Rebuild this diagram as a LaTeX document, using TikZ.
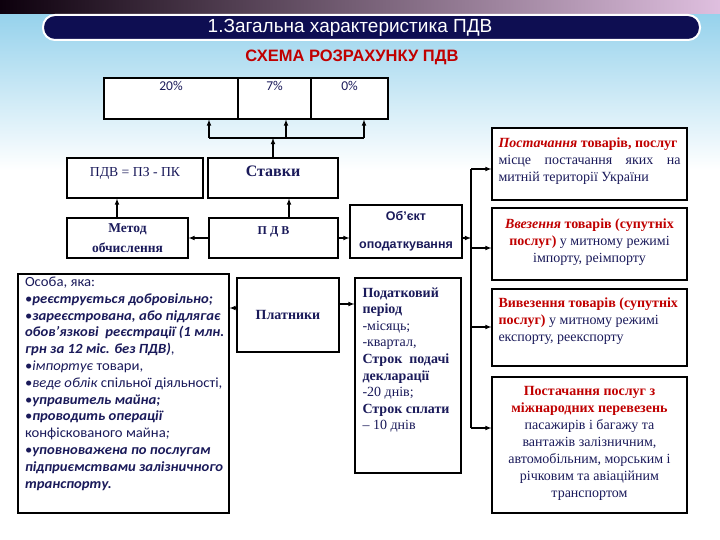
\documentclass[tikz,border=0pt]{standalone}
\usepackage{fontspec}
\setmainfont{Liberation Serif}
\setsansfont{Liberation Sans}
\newfontfamily\calib{Carlito}
\newfontfamily\calibw{Carlito}[FakeStretch=1.05]
\definecolor{navy}{RGB}{26,26,90}
\definecolor{barblue}{RGB}{14,14,82}
\definecolor{redtxt}{RGB}{192,0,0}
\definecolor{skyblue}{RGB}{150,210,236}
\newcommand{\redb}[1]{\textcolor{redtxt}{\textbf{#1}}}
\newcommand{\inbox}[3]{\parbox[c][#1][t]{#2}{#3}}
\newcommand{\bit}[1]{•\textbf{\textit{#1}}}

\begin{document}
\begin{tikzpicture}[x=1pt,y=-1pt,
    box/.style={draw,fill=white,line width=1.1pt,inner sep=0pt,text=navy},
    arr/.style={-latex,line width=1.1pt},
    pct/.style={font=\calib\fontsize{13.5}{14}\selectfont,text=navy,inner sep=0pt},
    rate/.style={box,minimum height=41pt,label={[pct,anchor=north,yshift=-4pt]north:#1}},
    txt/.style={font=\fontsize{14}{17}\selectfont}]
  \useasboundingbox (0,0) rectangle (720,540);
  % background
  \fill[white] (0,0) rectangle (720,540);
  \shade[top color=skyblue,bottom color=white] (0,14) rectangle (720,170);
  \shade[left color=black!90!violet,middle color=black!70!violet,right color=violet!25] (0,0) rectangle (720,14);
  \draw[line width=2pt,draw=white,fill=barblue,rounded corners=12pt] (43,15) rectangle (700,40);
  \node[text=white,font=\sffamily\fontsize{19}{19}\selectfont] (header) at (350,27.5) {1.Загальна характеристика ПДВ};
  \node[text=redtxt,font=\sffamily\bfseries\fontsize{16.5}{16.5}\selectfont] (title) at (352,57) {СХЕМА РОЗРАХУНКУ ПДВ};

  % rates
  \node[rate=20\%,minimum width=134pt] (r20) at (171,98.5) {};
  \node[rate=7\%,minimum width=73pt] (r7) at (274.5,98.5) {};
  \node[rate=0\%,minimum width=77pt] (r0) at (349.5,98.5) {};

  % left column
  \node[box,minimum width=136pt,minimum height=40pt,font=\fontsize{13.7}{13.7}\selectfont,
        text height=9pt,text depth=12.4pt] (pdvf) at (135,178) {ПДВ = ПЗ - ПК};
  \node[box,minimum width=130pt,minimum height=40pt,font=\bfseries\fontsize{16}{16}\selectfont,
        text height=10pt,text depth=12pt] (stavky) at (273,178) {Ставки};
  \node[box,minimum width=121pt,minimum height=40pt,align=center,
        font=\bfseries\fontsize{13.5}{20}\selectfont] (metod) at (127.5,238) {Метод\\обчислення};
  \node[box,line width=2.4pt,minimum width=129pt,minimum height=40pt,font=\bfseries\fontsize{12}{12}\selectfont,
        text height=8.5pt,text depth=16.5pt] (pdv) at (273.5,238) {П Д В};
  \node[box,minimum width=112pt,minimum height=53pt,align=center,
        font=\sffamily\bfseries\fontsize{12.5}{28}\selectfont] (obj) at (406,231.5) {Об’єкт\\оподаткування};

  \node[box,minimum width=211pt,minimum height=239pt,font=\calibw\fontsize{14}{16.8}\selectfont] (osoba) at (123.5,393.5)
    {\inbox{233pt}{211pt}{\raggedright\leftskip=7pt Особа, яка:\\
     \bit{реєструється добровільно;}\\
     \bit{зареєстрована, або підлягає}\\
     \textbf{\textit{обов’язкові\ \ реєстрації (1 млн.}}\\
     \textbf{\textit{грн за 12 міс. без ПДВ)}},\\
     •\textit{імпортує} товари,\\
     •\textit{веде облік} спільної діяльності,\\
     \bit{управитель майна;}\\
     \bit{проводить операції}\\
     конфіскованого майна\textit{;}\\
     \bit{уповноважена по послугам}\\
     \textbf{\textit{підприємствами залізничного}}\\
     \textbf{\textit{транспорту.}}}};
  \node[box,minimum width=102pt,minimum height=74pt,font=\bfseries\fontsize{14}{14}\selectfont] (platnyky) at (288,315) {Платники};
  \node[box,minimum width=106pt,minimum height=195pt,font=\fontsize{14}{16.6}\selectfont] (podatk) at (408,375.5)
    {\inbox{176pt}{91pt}{\raggedright \textbf{Податковий}\\
     \textbf{період}\\
     -місяць;\\
     -квартал,\\
     \textbf{Строк\ \ подачі}\\
     \textbf{декларації}\\
     -20 днів;\\
     \textbf{Строк сплати}\\
     – 10 днів}};

  % right column
  \node[box,minimum width=195pt,minimum height=72pt,txt] (r1) at (589.5,164)
    {\inbox{53pt}{182pt}{\raggedright \textcolor{redtxt}{\textbf{\textit{Постачання}}} \redb{товарів, послуг}\\
     місце\hfill постачання\hfill яких\hfill на\\
     митній території України}};
  \node[box,minimum width=195pt,minimum height=72pt,txt] (r2) at (589.5,244)
    {\inbox{51pt}{187pt}{\centering \textcolor{redtxt}{\textbf{\textit{Ввезення}}} \redb{товарів (супутніх}\\
     \redb{послуг)} у митному режимі\\
     імпорту, реімпорту}};
  \node[box,minimum width=195pt,minimum height=77pt,txt] (r3) at (589.5,327.5)
    {\inbox{60pt}{182pt}{\raggedright \redb{Вивезення товарів (супутніх}\\
     \redb{послуг)} у митному режимі\\
     експорту, реекспорту}};
  \node[box,minimum width=195pt,minimum height=136pt,txt] (r4) at (589.5,445)
    {\inbox{117pt}{187pt}{\centering \redb{Постачання послуг з}\\
     \redb{міжнародних перевезень}\\
     пасажирів і багажу та\\
     вантажів залізничним,\\
     автомобільним, морським і\\
     річковим та авіаційним\\
     транспортом}};

  % connectors to the rates
  \coordinate (bus) at (273,138);
  \coordinate (b20) at (209,138);
  \coordinate (b7) at (286,138);
  \coordinate (b0) at (364,138);
  \draw[arr] (stavky.north) -- (bus);
  \draw[line width=1.1pt] (b20) -- (b0);
  \foreach \r/\b in {r20/b20,r7/b7,r0/b0}
    \draw[arr] (\b) -- (\b |- \r.south);

  \draw[arr] ([xshift=-10.5pt]metod.north) -- ([xshift=-10.5pt]metod.north |- pdvf.south);
  \draw[arr] ([xshift=15.5pt]pdv.north) -- ([xshift=15.5pt]pdv.north |- stavky.south);
  \draw[arr] (pdv.west) -- (metod.east);
  \draw[arr] (pdv.east) -- (pdv.east -| obj.west);
  \draw[arr] ([yshift=7pt]platnyky.west) -- ([yshift=7pt]platnyky.west -| osoba.east);
  \draw[arr] ([yshift=11pt]platnyky.east) -- ([yshift=11pt]platnyky.east -| podatk.west);

  % object to the four kinds
  \coordinate (trunk) at (471,238);
  \coordinate (t1) at (471,169);
  \coordinate (t2) at (471,248);
  \coordinate (t3) at (471,327);
  \coordinate (t4) at (471,428);
  \draw[arr] (obj.east |- trunk) -- (trunk);
  \draw[line width=1.1pt] (t1) -- (t4);
  \foreach \t/\r in {t1/r1,t2/r2,t3/r3,t4/r4}
    \draw[arr] (\t) -- (\t -| \r.west);
\end{tikzpicture}
\end{document}
